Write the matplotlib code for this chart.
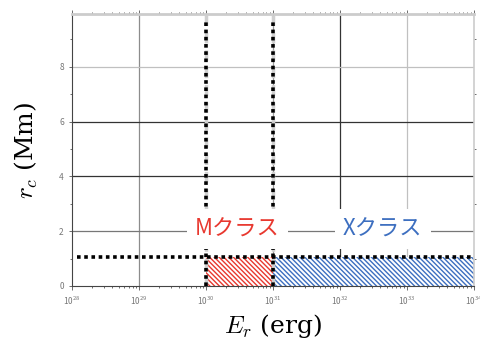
import matplotlib.pyplot as plt
from matplotlib.ticker import LogLocator, FixedLocator

plt.rcParams['font.family'] = ['Noto Sans CJK JP', 'DejaVu Sans']
plt.rcParams['mathtext.fontset'] = 'cm'
plt.rcParams['hatch.linewidth'] = 1.0

# energy range of the flare classes (erg) and the critical radius level (Mm)
x_range = [1e28, 1e34]
y_range = [0, 9.93]
m_class = [1e30, 1e31]
x_class = [1e31, 1e34]
rc_level = 1.05
dotted_start = 1.2e28

# grid lines and their shades
xgrid = [1e29, 1e31, 1e32, 1e33]
xgrid_col = ['#8c8c8c', '#9a9a9a', '#333333', '#c0c0c0']
ygrid = [2, 4, 6, 8]
ygrid_col = ['#777777', '#333333', '#333333', '#c0c0c0']

fig = plt.figure(figsize=(4.81, 3.42), dpi=100)
ax = fig.add_axes([0.150, 0.164, 0.835, 0.795])
ax.set_xscale('log')
ax.set_xlim(x_range)
ax.set_ylim(y_range)

for xv, c in zip(xgrid, xgrid_col):
    ax.axvline(xv, color=c, lw=0.9, zorder=0)
for yv, c in zip(ygrid, ygrid_col):
    ax.axhline(yv, color=c, lw=0.9, zorder=0)

# hatched regions
ax.fill_between(m_class, 0, rc_level, facecolor='white', edgecolor='#e8382f',
                hatch='\\' * 7, lw=0, zorder=1)
ax.fill_between(x_class, 0, rc_level, facecolor='white', edgecolor='#3d6fc0',
                hatch='\\' * 7, lw=0, zorder=1)

# light dashed guides under the dotted borders
for xv in m_class:
    ax.plot([xv, xv], y_range, color='#d0d0d0', lw=2.5, ls=(0, (3, 2)), zorder=2)

dot = dict(color='black', lw=2.6, ls=(0, (1, 1)), solid_capstyle='butt',
           dash_capstyle='butt', zorder=3, clip_on=False)
ax.plot([dotted_start, x_range[1]], [rc_level, rc_level], **dot)
for xv in m_class:
    ax.plot([xv, xv], [0, 9.75], **dot)

box = dict(facecolor='white', edgecolor='none', pad=6)
ax.text(10**30.47, 2.08, 'Mクラス', color='#e8382f', fontsize=16,
        ha='center', va='center', bbox=box, zorder=4)
ax.text(10**32.64, 2.08, 'Xクラス', color='#3d6fc0', fontsize=16,
        ha='center', va='center', bbox=box, zorder=4)

# ticks
ax.xaxis.set_major_locator(LogLocator(base=10, numticks=10))
ax.xaxis.set_minor_locator(LogLocator(base=10, subs=range(2, 10), numticks=20))
ax.yaxis.set_major_locator(FixedLocator([0, 2, 4, 6, 8]))
ax.yaxis.set_minor_locator(FixedLocator([1, 3, 5, 7, 9]))
ax.tick_params(which='both', top=True, right=True, direction='out',
               colors='#555555', labelsize=6, length=2.5, width=0.6)
ax.tick_params(which='minor', length=1.5, right=True, left=True)
ax.tick_params(axis='y', which='major', right=False)
ax.tick_params(axis='x', which='major', length=3)
for lab in ax.get_xticklabels() + ax.get_yticklabels():
    lab.set_color('#777777')

ax.spines['left'].set_color('#444444')
ax.spines['bottom'].set_color('#444444')
ax.spines['top'].set_color('#cccccc')
ax.spines['top'].set_linewidth(2)
ax.spines['right'].set_color('#cccccc')
ax.spines['right'].set_linewidth(1.2)

ax.set_xlabel(r'$E_r$ (erg)', fontsize=18, family='DejaVu Serif', labelpad=3)
ax.set_ylabel(r'$r_c$ (Mm)', fontsize=18, family='DejaVu Serif', labelpad=14)

fig.savefig('out.png', dpi=100)
